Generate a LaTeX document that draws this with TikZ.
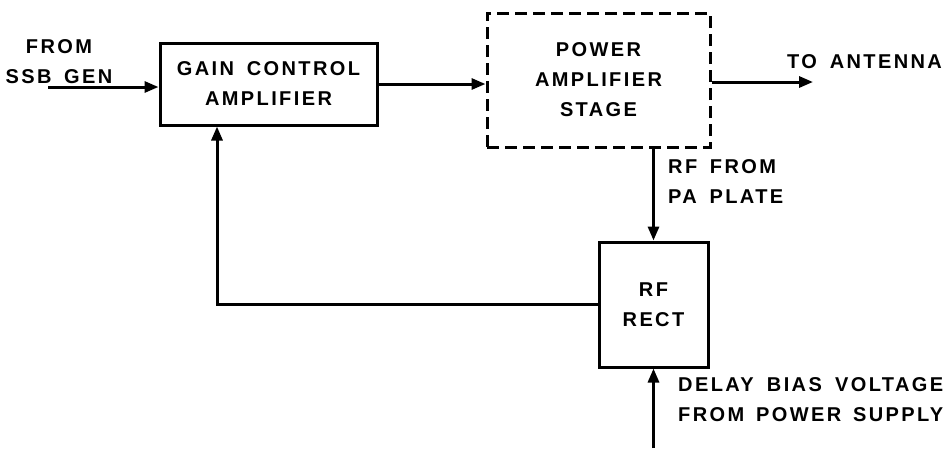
\documentclass[tikz,border=0pt]{standalone}
\usepackage{fontspec}
\setmainfont{Liberation Sans}[LetterSpace=12, WordSpace=1.6]
\usetikzlibrary{arrows.meta}
\tikzset{
  lbl/.style={font=\bfseries\fontsize{20}{30}\selectfont, inner sep=0pt},
  blk/.style={draw, line width=3pt, minimum width=#1, inner sep=0pt, align=center,
              font=\bfseries\fontsize{20}{30}\selectfont},
  conn/.style={line width=3pt, -{Triangle[length=14pt,width=11pt]}},
  wire/.style={line width=3pt},
}
\begin{document}
\begin{tikzpicture}[x=1pt,y=-1pt]
\useasboundingbox (0,0) rectangle (947,448);
\node[blk=217pt, minimum height=82pt] (gain) at (268.5,84) {GAIN CONTROL\\AMPLIFIER};
\node[blk=223pt, minimum height=134pt, dash pattern=on 12pt off 6pt] (pa) at (598.5,80) {POWER\\AMPLIFIER\\STAGE};
\node[blk=109pt, minimum height=125pt] (rf) at (653.5,304.5) {RF\\RECT};

\coordinate (in) at (48,87);
\coordinate (out) at (813,82);
\coordinate (bot) at (653.5,448);

\draw[conn] (in) -- (in -| gain.west);
\draw[conn] (gain.east) -- (gain.east -| pa.west);
\draw[conn] (pa.east |- out) -- (out);
\draw[conn] (rf.north |- pa.south) -- (rf.north);
\draw[conn] (rf.west) -| ([xshift=-51.5pt]gain.south);
\draw[conn] (bot) -- (rf.south);

\node[lbl, align=center] (lin) at (59,62) {FROM\\SSB GEN};
\node[lbl, anchor=west] (lout) at (787,62) {TO ANTENNA};
\node[lbl, anchor=west, align=left] (lpa) at (668,182) {RF FROM\\PA PLATE};
\node[lbl, anchor=west, align=left] (lbias) at (678,399.5) {\makebox[265pt][s]{DELAY\hfill BIAS\hfill VOLTAGE}\\\makebox[265pt][s]{FROM\hfill POWER\hfill SUPPLY}};
\end{tikzpicture}
\end{document}
